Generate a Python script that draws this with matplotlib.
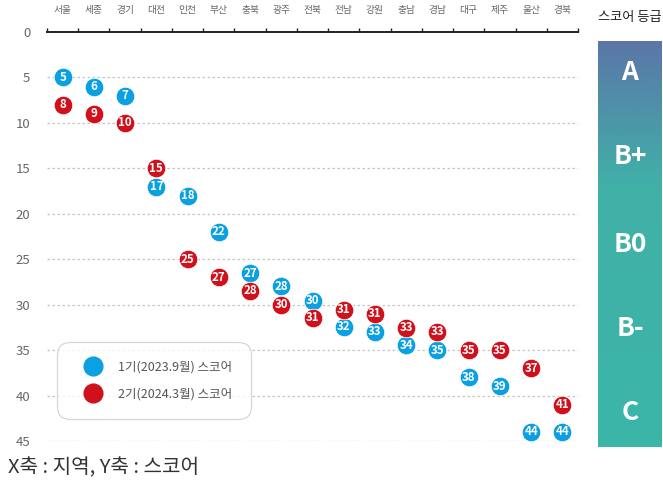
import numpy as np
import matplotlib
matplotlib.use("Agg")
import matplotlib.pyplot as plt
from matplotlib.lines import Line2D
from matplotlib.colors import LinearSegmentedColormap

plt.rcParams['font.family'] = ['Noto Sans CJK KR', 'DejaVu Sans']

regions = ['서울', '세종', '경기', '대전', '인천', '부산', '충북', '광주', '전북',
           '전남', '강원', '충남', '경남', '대구', '제주', '울산', '경북']
score_1st = [5, 6, 7, 17, 18, 22, 27, 28, 30, 32, 33, 34, 35, 38, 39, 44, 44]
score_2nd = [8, 9, 10, 15, 25, 27, 28, 30, 31, 31, 31, 33, 33, 35, 35, 37, 41]
series_labels = ['1기(2023.9월) 스코어', '2기(2024.3월) 스코어']
y_ticks = [0, 5, 10, 15, 20, 25, 30, 35, 40, 45]
grades = ['A', 'B+', 'B0', 'B-', 'C']

BLUE = '#0AA0E2'
RED = '#D0111C'

W, H = 663, 482
fig = plt.figure(figsize=(W / 100, H / 100), dpi=100)

def fx(px):
    return px / W

def fy(py):
    return 1 - py / H

# main scatter axes
ax = fig.add_axes([fx(47), fy(441), fx(578 - 47), (441 - 32) / H])
x = np.arange(len(regions))
ax.set_xlim(-0.5, len(regions) - 0.5)
ax.set_ylim(45, 0)

for s in ['left', 'right', 'bottom']:
    ax.spines[s].set_visible(False)
ax.spines['top'].set_color('#222222')
ax.spines['top'].set_linewidth(1.4)

ax.xaxis.tick_top()
ax.set_xticks(x)
ax.set_xticklabels(regions, fontsize=7, color='#666666')
ax.tick_params(axis='x', which='major', length=0, pad=12)
ax.set_xticks(np.arange(-0.5, len(regions)), minor=True)
ax.tick_params(axis='x', which='minor', length=3, width=1, color='#222222',
               direction='out', top=True, bottom=False)

ax.set_yticks(y_ticks)
ax.set_yticklabels([str(v) for v in y_ticks], fontsize=9.5, color='#666666')
ax.tick_params(axis='y', length=0, pad=12)

for v in y_ticks[1:]:
    ax.axhline(v, color='#C4C4C4', lw=0.9, ls=(0, (2, 2)), zorder=0)

# nudge pairs of bubbles that sit too close so their numbers stay readable
MIN_GAP = 1.9
pos_1st = np.array(score_1st, dtype=float)
pos_2nd = np.array(score_2nd, dtype=float)
for i in range(len(regions)):
    gap = abs(pos_1st[i] - pos_2nd[i])
    if gap < MIN_GAP:
        shift = (MIN_GAP - gap) / 2
        if pos_1st[i] <= pos_2nd[i]:
            pos_1st[i] -= shift
            pos_2nd[i] += shift
        else:
            pos_1st[i] += shift
            pos_2nd[i] -= shift

msize = 13.4
for vals, pos, col, z in [(score_1st, pos_1st, BLUE, 3),
                          (score_2nd, pos_2nd, RED, 4)]:
    ax.plot(x, pos, 'o', ms=msize, color=col, mec='white', mew=0.6,
            zorder=z, clip_on=False, ls='none')
    for xi, p, v in zip(x, pos, vals):
        ax.text(xi, p, str(v), ha='center', va='center', color='white',
                fontsize=8.3, fontweight='bold', zorder=z + 0.5, clip_on=False)

# legend
handles = [Line2D([], [], marker='o', ls='none', ms=13.5, color=BLUE),
           Line2D([], [], marker='o', ls='none', ms=13.5, color=RED)]
leg = ax.legend(handles, series_labels, loc='upper left',
                bbox_to_anchor=(fx(57), fy(342)), bbox_transform=fig.transFigure,
                fontsize=9, labelcolor='#555555', frameon=True, fancybox=True,
                borderpad=1.45, labelspacing=1.15, handletextpad=0.55,
                borderaxespad=0, handlelength=2.9)
frame = leg.get_frame()
frame.set_edgecolor('#CCCCCC')
frame.set_linewidth(0.9)
frame.set_boxstyle('round,pad=0,rounding_size=1.0')
leg.set_zorder(10)

# footer caption
fig.text(fx(8), fy(468), 'X축 : 지역, Y축 : 스코어', fontsize=14.5,
         color='#333333', ha='left', va='center')

# grade panel with gradient
fig.text(fx(630), fy(18), '스코어 등급', fontsize=9.5, color='#222222',
         ha='center', va='center')
gax = fig.add_axes([fx(598), fy(447), fx(662 - 598), (447 - 41) / H])
cmap = LinearSegmentedColormap.from_list(
    'grade', [(0.0, '#5B76A8'), (0.35, '#41B0A8'), (1.0, '#3BB6A7')])
grad = np.linspace(0, 1, 256).reshape(-1, 1)
gax.imshow(grad, aspect='auto', cmap=cmap, extent=[0, 1, 1, 0])
gax.set_xlim(0, 1)
gax.set_ylim(1, 0)
gax.axis('off')
grade_pos = [(72 - 41) / 406, (157 - 41) / 406, (244 - 41) / 406,
             (329 - 41) / 406, (413 - 41) / 406]
for g, p in zip(grades, grade_pos):
    gax.text(0.5, p, g, ha='center', va='center', color='white',
             fontsize=19, fontweight='bold')

fig.savefig('out.png', dpi=100)
